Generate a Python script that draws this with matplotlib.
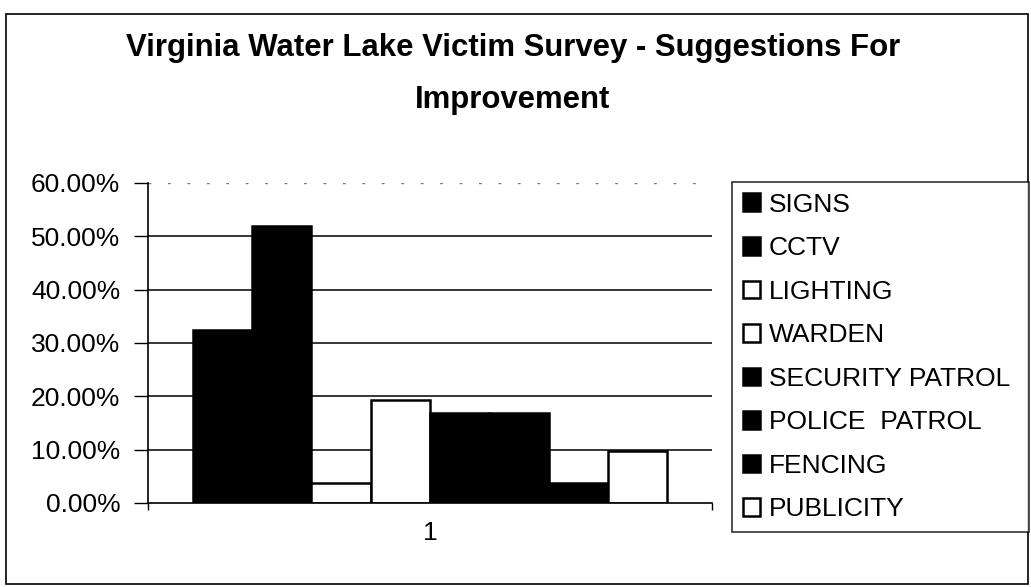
import matplotlib

matplotlib.use("Agg")
import matplotlib.pyplot as plt
from matplotlib.patches import Rectangle
from matplotlib.ticker import PercentFormatter

plt.rcParams["font.family"] = ["Liberation Sans", "DejaVu Sans"]

# data (percent of respondents)
categories = ["SIGNS", "CCTV", "LIGHTING", "WARDEN", "SECURITY PATROL",
              "POLICE  PATROL", "FENCING", "PUBLICITY"]
values = [32.5, 52.0, 3.8, 19.4, 16.9, 16.9, 3.8, 9.7]
fills = ["black", "black", "white", "white", "black", "black", "black", "white"]
y_ticks = [0, 10, 20, 30, 40, 50, 60]
x_label = "1"

W, H = 1031, 587
fig = plt.figure(figsize=(W / 100, H / 100), dpi=100)

# outer chart-area border
fig.patches.append(Rectangle((6 / W, 1 - 584 / H), 1022 / W, 570 / H,
                             transform=fig.transFigure, fill=False,
                             edgecolor="black", linewidth=1.2))

ax = fig.add_axes([148 / W, 1 - 503 / H, 564 / W, 320 / H])

n = len(values)
gap = 1.5
bw = 1.0 / (n + gap)
x0 = gap / 2 * bw
handles = []
for i, (cat, v, fc) in enumerate(zip(categories, values, fills)):
    b = ax.bar(x0 + i * bw, v, width=bw, align="edge", color=fc,
               edgecolor="black", linewidth=1.8, label=cat, zorder=3)
    handles.append(b)

ax.set_xlim(0, 1)
ax.set_ylim(0, 60)
ax.set_yticks(y_ticks)
ax.yaxis.set_major_formatter(PercentFormatter(decimals=2))
for t in y_ticks[1:-1]:
    ax.axhline(t, color="black", linewidth=1.1, zorder=1)
ax.axhline(60, color="#777777", linewidth=1.0, linestyle=(0, (2, 12)), zorder=1)

ax.set_xticks([0.5])
ax.set_xticklabels([x_label])
ax.set_xticks([0, 1], minor=True)
ax.tick_params(axis="x", which="major", length=0, pad=13, labelsize=19)
ax.tick_params(axis="x", which="minor", length=5, width=1, direction="out")
ax.tick_params(axis="y", length=10, width=1, direction="out", pad=10, labelsize=19)

for side in ["top", "right"]:
    ax.spines[side].set_visible(False)
for side in ["left", "bottom"]:
    ax.spines[side].set_linewidth(1.2)
    ax.spines[side].set_zorder(4)

fig.text(513 / W, 1 - 48 / H, "Virginia Water Lake Victim Survey - Suggestions For",
         ha="center", va="center", fontsize=22.4, fontweight="bold")
fig.text(513 / W, 1 - 100 / H, "Improvement",
         ha="center", va="center", fontsize=22.4, fontweight="bold")

leg = fig.legend(handles=handles, labels=categories, loc="upper left",
                 bbox_to_anchor=(732 / W, 1 - 537 / H, 297 / W, 355 / H),
                 mode="expand", fontsize=19, frameon=True, fancybox=False,
                 handlelength=0.65, handleheight=0.65, handletextpad=0.35,
                 labelspacing=0.74, borderpad=0.4, borderaxespad=0)
leg.get_frame().set_edgecolor("black")
leg.get_frame().set_linewidth(1.2)

fig.savefig("out.png", dpi=100)
